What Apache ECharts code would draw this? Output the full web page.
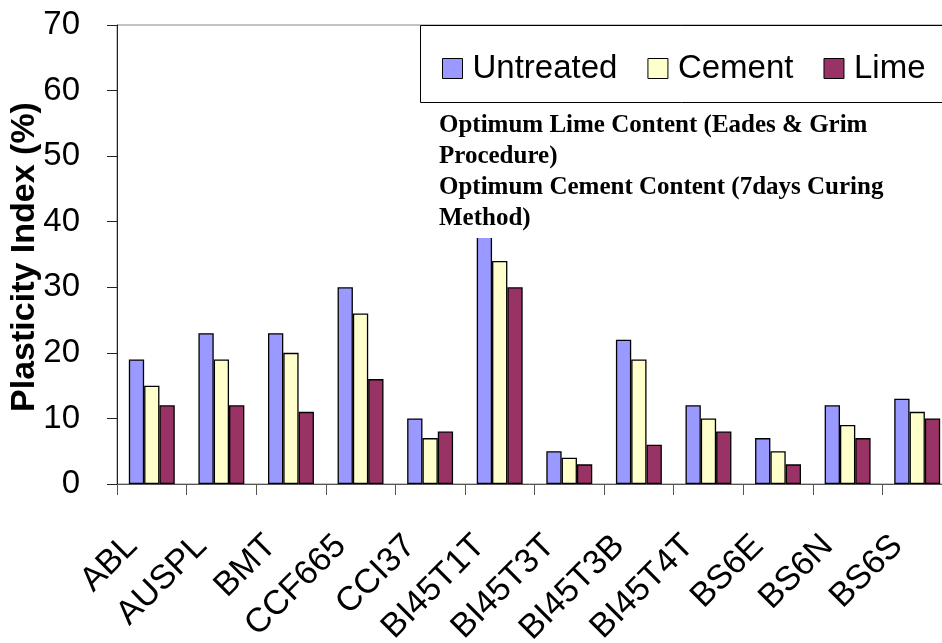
<!DOCTYPE html>
<html>
<head>
<meta charset="utf-8">
<script src="https://cdn.jsdelivr.net/npm/echarts@6/dist/echarts.min.js"></script>
<style>
  html, body { margin: 0; padding: 0; background: #fff; }
  #chart { width: 942px; height: 643px; }
</style>
</head>
<body>
<div id="chart"></div>
<script>
// Soil samples along the x axis
const categories = ['ABL', 'AUSPL', 'BMT', 'CCF665', 'CCI37', 'BI45T1T', 'BI45T3T', 'BI45T3B', 'BI45T4T', 'BS6E', 'BS6N', 'BS6S'];

// Plasticity index (%) for each treatment
const untreated = [19, 23, 23, 30, 10, 40, 5, 22, 12, 7, 12, 13];
const cement    = [15, 19, 20, 26, 7, 34, 4, 19, 10, 5, 9, 11];
const lime      = [12, 12, 11, 16, 8, 30, 3, 6, 8, 3, 7, 10];

const seriesNames = ['Untreated', 'Cement', 'Lime'];
const yMin = 0, yMax = 70, yStep = 10;
const yTitle = 'Plasticity Index (%)';

const noteLines = [
  'Optimum Lime Content (Eades & Grim',
  'Procedure)',
  'Optimum Cement Content (7days Curing',
  'Method)'
];

const colors = ['#9999FF', '#FFFFCC', '#993366'];
const sans = '"Liberation Sans", Arial, sans-serif';

const chart = echarts.init(document.getElementById('chart'), null, { renderer: 'canvas' });

function barSeries(name, data, color) {
  return {
    name: name,
    type: 'bar',
    data: data,
    barGap: '0%',
    barCategoryGap: '34%',
    itemStyle: { color: color, borderColor: '#000', borderWidth: 1.3 },
    emphasis: { disabled: true },
    animation: false
  };
}

chart.setOption({
  animation: false,
  grid: {
    left: 117, right: -10, top: 25, bottom: 159,
    containLabel: false,
    outerBoundsMode: 'none',
    show: true,
    borderColor: '#888',
    borderWidth: 1,
    backgroundColor: 'transparent'
  },
  legend: {
    data: seriesNames,
    left: 437,
    top: 47,
    width: 800,
    orient: 'horizontal',
    icon: 'rect',
    itemWidth: 20,
    itemHeight: 20,
    itemGap: 30,
    itemStyle: { borderColor: '#000', borderWidth: 1 },
    textStyle: { fontFamily: sans, fontSize: 33, color: '#000', padding: [0, 0, 0, 5] },
    selectedMode: false
  },
  xAxis: {
    type: 'category',
    data: categories,
    boundaryGap: true,
    axisLine: { lineStyle: { color: '#555', width: 1 } },
    axisTick: { show: true, length: 11, lineStyle: { color: '#555' } },
    axisLabel: {
      rotate: 45,
      interval: 0,
      margin: 37,
      padding: [0, 28, 0, 0],
      fontFamily: sans,
      fontSize: 34,
      color: '#000'
    },
    splitLine: { show: false }
  },
  yAxis: {
    type: 'value',
    min: yMin,
    max: yMax,
    interval: yStep,
    axisLine: { show: true, lineStyle: { color: '#222', width: 1 } },
    axisTick: { show: true, length: 10, lineStyle: { color: '#222' } },
    axisLabel: { margin: 37, fontFamily: sans, fontSize: 33, color: '#000' },
    splitLine: { show: false }
  },
  series: [
    barSeries(seriesNames[0], untreated, colors[0]),
    barSeries(seriesNames[1], cement, colors[1]),
    barSeries(seriesNames[2], lime, colors[2])
  ],
  graphic: [
    // y axis title, rotated to read bottom-to-top
    {
      type: 'text',
      x: 25,
      y: 257,
      rotation: Math.PI / 2,
      style: {
        text: yTitle,
        font: 'bold 34px "Liberation Sans", Arial, sans-serif',
        align: 'center',
        verticalAlign: 'middle',
        textAlign: 'center',
        textVerticalAlign: 'middle',
        fill: '#000'
      }
    },
    // legend frame
    {
      type: 'rect',
      z: 50,
      shape: { x: 420.5, y: 25.5, width: 540, height: 77 },
      style: { fill: 'transparent', stroke: '#000', lineWidth: 1 }
    },
    // note box
    {
      type: 'rect',
      z: 60,
      shape: { x: 434, y: 108, width: 470, height: 130 },
      style: { fill: '#fff' }
    },
    {
      type: 'text',
      z: 61,
      left: 439,
      top: 110,
      style: {
        text: noteLines.join('\n'),
        font: 'bold 25px "Liberation Serif", "Times New Roman", serif',
        lineHeight: 31,
        fill: '#000'
      }
    }
  ]
});
</script>
</body>
</html>
